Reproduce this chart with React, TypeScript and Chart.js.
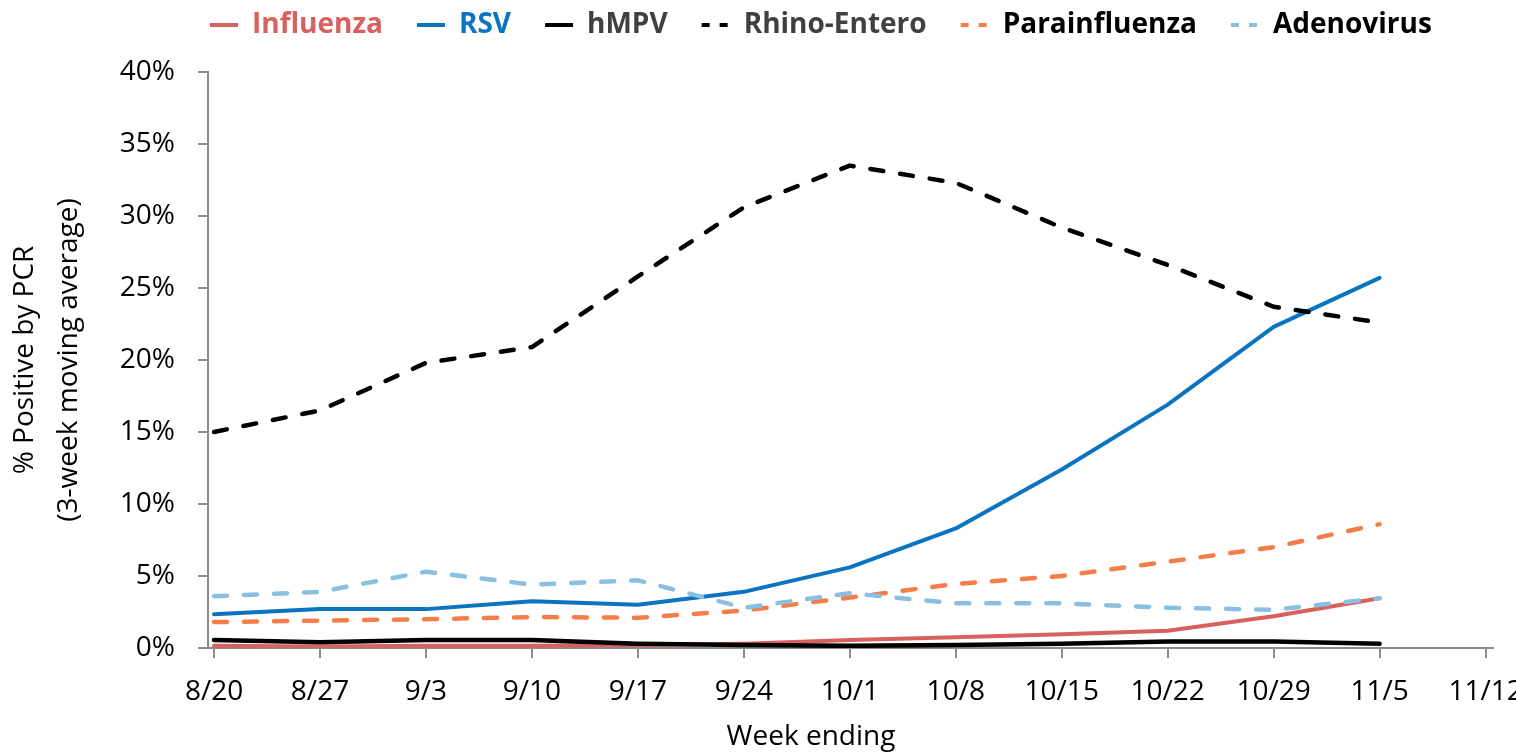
import React, { useEffect, useRef } from 'react';
import { Chart, registerables } from 'chart.js';

Chart.register(...registerables);

const weekLabels = ['8/20', '8/27', '9/3', '9/10', '9/17', '9/24', '10/1', '10/8', '10/15', '10/22', '10/29', '11/5', '11/12'];
const influenza = [0.15, 0.1, 0.15, 0.15, 0.2, 0.3, 0.55, 0.75, 0.95, 1.2, 2.2, 3.45];
const rsv = [2.35, 2.7, 2.7, 3.25, 3.0, 3.9, 5.6, 8.3, 12.4, 16.9, 22.3, 25.7];
const hmpv = [0.55, 0.4, 0.55, 0.55, 0.3, 0.2, 0.15, 0.2, 0.3, 0.45, 0.45, 0.3];
const rhinoEntero = [15.0, 16.5, 19.8, 20.9, 25.8, 30.6, 33.5, 32.3, 29.2, 26.6, 23.7, 22.6];
const parainfluenza = [1.8, 1.9, 2.0, 2.15, 2.1, 2.6, 3.5, 4.45, 5.0, 6.0, 7.0, 8.6];
const adenovirus = [3.6, 3.9, 5.3, 4.4, 4.7, 2.8, 3.8, 3.1, 3.1, 2.8, 2.65, 3.45];

const yTicks = [0, 5, 10, 15, 20, 25, 30, 35, 40];
const yTitle = ['% Positive by PCR', '(3-week moving average)'];
const xTitle = 'Week ending';

const FONT = '"Open Sans", "Noto Sans", sans-serif';
const AXIS = '#8a8a8a';

export default function App() {
  const ref = useRef<HTMLCanvasElement>(null);

  useEffect(() => {
    if (!ref.current) return;
    Chart.defaults.font.family = FONT;
    Chart.defaults.color = '#000';

    const series = [
      { label: 'Influenza', data: influenza, color: '#d8615f', text: '#d8615f', dashed: false, width: 4 },
      { label: 'RSV', data: rsv, color: '#0a74c0', text: '#0a74c0', dashed: false, width: 4 },
      { label: 'hMPV', data: hmpv, color: '#000000', text: '#404040', dashed: false, width: 4.5 },
      { label: 'Rhino-Entero', data: rhinoEntero, color: '#000000', text: '#404040', dashed: true, width: 4.5 },
      { label: 'Parainfluenza', data: parainfluenza, color: '#f47e4a', text: '#000000', dashed: true, width: 4.5 },
      { label: 'Adenovirus', data: adenovirus, color: '#8abfdf', text: '#000000', dashed: true, width: 4.5 },
    ];

    const legendPlacer = {
      id: 'legendPlacer',
      afterLayout(chart: any) {
        const l = chart.legend;
        if (!l) return;
        const pad = l.options.labels.padding;
        l.left = 210 - pad;
        l.top = 25 - pad - 14;
      },
    };

    const xTitlePlugin = {
      id: 'xTitlePlugin',
      afterDraw(chart: any) {
        const ctx = chart.ctx;
        ctx.save();
        ctx.font = `28px ${FONT}`;
        ctx.fillStyle = '#000';
        ctx.textAlign = 'center';
        ctx.textBaseline = 'middle';
        ctx.fillText(xTitle, 811, 737);
        ctx.restore();
      },
    };

    const chart = new Chart(ref.current, {
      type: 'line',
      data: {
        datasets: series.map((s, i) => ({
          label: s.label,
          data: s.data.map((v, j) => ({ x: j, y: v })),
          borderColor: s.color,
          backgroundColor: s.color,
          borderWidth: s.width,
          borderDash: s.dashed ? [13, 17] : [],
          borderCapStyle: s.dashed ? 'round' : 'round',
          borderJoinStyle: 'round',
          pointRadius: 0,
          pointHoverRadius: 0,
          tension: 0,
          fill: false,
          order: series.length - i,
        })),
      },
      options: {
        responsive: false,
        animation: false,
        devicePixelRatio: 1,
        layout: { padding: 0 },
        plugins: {
          tooltip: { enabled: false },
          legend: {
            position: 'top',
            align: 'start',
            labels: {
              usePointStyle: true,
              pointStyle: 'line',
              pointStyleWidth: 28,
              boxHeight: 28,
              padding: 34,
              font: { size: 28, weight: 'bold', family: FONT },
              generateLabels: () =>
                series.map((s, i) => ({
                  text: s.label,
                  fillStyle: s.color,
                  strokeStyle: s.color,
                  lineWidth: 4,
                  lineDash: s.dashed ? [8, 10] : [],
                  lineCap: 'butt',
                  pointStyle: 'line',
                  fontColor: s.text,
                  hidden: false,
                  datasetIndex: i,
                })),
            },
          },
        },
        scales: {
          x: {
            type: 'linear',
            min: -0.057,
            max: 12.07,
            afterBuildTicks: (s: any) => {
              s.ticks = weekLabels.map((_, i) => ({ value: i }));
            },
            afterFit: (s: any) => {
              s.height = 105;
              s.paddingLeft = 0;
              s.paddingRight = 23;
            },
            ticks: {
              callback: (v: any) => weekLabels[Math.round(Number(v))] ?? '',
              font: { size: 28 },
              color: '#000',
              padding: 17,
              maxRotation: 0,
              autoSkip: false,
            },
            grid: { drawOnChartArea: false, tickLength: 10, color: AXIS, lineWidth: 2 },
            border: { color: AXIS, width: 2 },
          },
          y: {
            min: 0,
            max: 40,
            afterBuildTicks: (s: any) => {
              s.ticks = yTicks.map((v) => ({ value: v }));
            },
            afterFit: (s: any) => {
              s.width = 208;
              s.paddingTop = 0;
              s.paddingBottom = 0;
            },
            ticks: {
              callback: (v: any) => `${v}%`,
              font: { size: 28 },
              color: '#000',
              padding: 23,
            },
            grid: { drawOnChartArea: false, tickLength: 10, color: AXIS, lineWidth: 2 },
            border: { color: AXIS, width: 2 },
            title: {
              display: true,
              text: yTitle,
              font: { size: 28, lineHeight: 44 / 28 },
              color: '#000',
              padding: { top: 3, bottom: 0 },
            },
          },
        },
      } as any,
      plugins: [legendPlacer, xTitlePlugin],
    });

    return () => chart.destroy();
  }, []);

  return (
    <div style={{ position: 'fixed', left: 0, top: 0, width: 1516, height: 753, overflow: 'hidden', background: '#fff' }}>
      <canvas ref={ref} width={1516} height={753} style={{ display: 'block', width: 1516, height: 753 }} />
    </div>
  );
}
